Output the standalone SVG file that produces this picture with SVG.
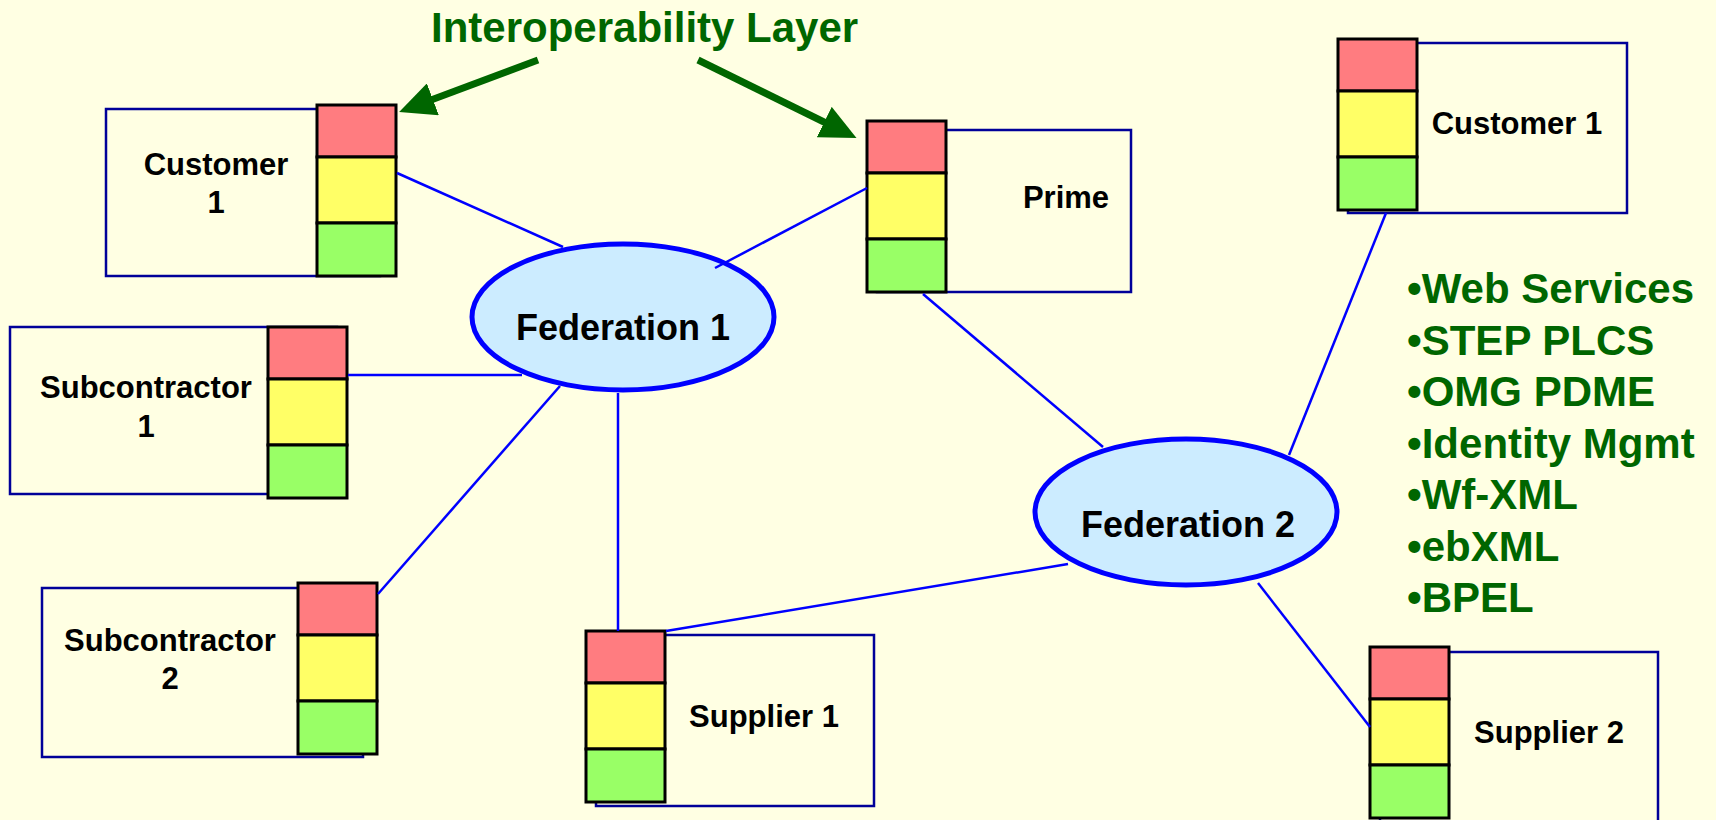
<svg xmlns="http://www.w3.org/2000/svg" xmlns:xlink="http://www.w3.org/1999/xlink" width="1716" height="820" viewBox="0 0 1716 820">
  <style>
    .box { fill: #FFFFE3; stroke: #000099; stroke-width: 2.5; }
    .fed { fill: #CCECFF; stroke: #0000FF; stroke-width: 5; }
    .link { stroke: #0000FF; stroke-width: 2.5; fill: none; }
    .label { font-family: "Liberation Sans", Arial, sans-serif; font-weight: bold; font-size: 31px; fill: #000; text-anchor: middle; }
    .fedlabel { font-family: "Liberation Sans", Arial, sans-serif; font-weight: bold; font-size: 36px; fill: #000; text-anchor: middle; }
    .green { font-family: "Liberation Sans", Arial, sans-serif; font-weight: bold; fill: #006600; }
    .pointer { stroke: #006600; stroke-width: 7; fill: none; }
  </style>
  <defs>
    <!-- three-layer interoperability stack: red / yellow / green -->
    <g id="stack">
      <rect x="0" y="0" width="79" height="52" fill="#FF7C80" stroke="#000" stroke-width="3"/>
      <rect x="0" y="52" width="79" height="66" fill="#FFFF66" stroke="#000" stroke-width="3"/>
      <rect x="0" y="118" width="79" height="53" fill="#99FF66" stroke="#000" stroke-width="3"/>
    </g>
    <marker id="head" markerUnits="userSpaceOnUse" markerWidth="36" markerHeight="34" viewBox="0 0 36 34" refX="2" refY="17" orient="auto">
      <path d="M0,0 L36,17 L0,34 z" fill="#006600"/>
    </marker>
  </defs>

  <rect width="1716" height="820" fill="#FFFFE3"/>

  <!-- title and pointer arrows -->
  <g id="title">
    <text class="green" x="431" y="42" font-size="42">Interoperability Layer</text>
    <line class="pointer" x1="538" y1="60" x2="431" y2="100" marker-end="url(#head)"/>
    <line class="pointer" x1="698" y1="60" x2="826" y2="123" marker-end="url(#head)"/>
  </g>

  <!-- standards list -->
  <g id="standards" class="green" font-size="42">
    <text x="1407" y="303">•Web Services</text>
    <text x="1407" y="354.5">•STEP PLCS</text>
    <text x="1407" y="406">•OMG PDME</text>
    <text x="1407" y="457.5">•Identity Mgmt</text>
    <text x="1407" y="509">•Wf-XML</text>
    <text x="1407" y="560.5">•ebXML</text>
    <text x="1407" y="612">•BPEL</text>
  </g>

  <!-- partner nodes -->
  <g id="customer1-left">
    <rect class="box" x="106" y="109" width="274" height="167"/>
    <use xlink:href="#stack" x="317" y="105"/>
    <text class="label" x="216" y="175">Customer</text>
    <text class="label" x="216" y="213">1</text>
  </g>

  <g id="prime">
    <rect class="box" x="877" y="130" width="254" height="162"/>
    <use xlink:href="#stack" x="867" y="121"/>
    <text class="label" x="1066" y="208">Prime</text>
  </g>

  <g id="customer1-right">
    <rect class="box" x="1348" y="43" width="279" height="170"/>
    <use xlink:href="#stack" x="1338" y="39"/>
    <text class="label" x="1517" y="134">Customer 1</text>
  </g>

  <g id="subcontractor1">
    <rect class="box" x="10" y="327" width="327" height="167"/>
    <use xlink:href="#stack" x="268" y="327"/>
    <text class="label" x="146" y="398">Subcontractor</text>
    <text class="label" x="146" y="437">1</text>
  </g>

  <g id="subcontractor2">
    <rect class="box" x="42" y="588" width="321" height="169"/>
    <use xlink:href="#stack" x="298" y="583"/>
    <text class="label" x="170" y="651">Subcontractor</text>
    <text class="label" x="170" y="689">2</text>
  </g>

  <g id="supplier1">
    <rect class="box" x="596" y="635" width="278" height="171"/>
    <use xlink:href="#stack" x="586" y="631"/>
    <text class="label" x="764" y="727">Supplier 1</text>
  </g>

  <g id="supplier2">
    <rect class="box" x="1380" y="652" width="278" height="190"/>
    <use xlink:href="#stack" x="1370" y="647"/>
    <text class="label" x="1549" y="743">Supplier 2</text>
  </g>

  <!-- federation hubs -->
  <g id="federation1">
    <ellipse class="fed" cx="623" cy="317" rx="151" ry="73"/>
    <text class="fedlabel" x="623" y="340">Federation 1</text>
  </g>

  <g id="federation2">
    <ellipse class="fed" cx="1186" cy="512" rx="151" ry="73"/>
    <text class="fedlabel" x="1188" y="537">Federation 2</text>
  </g>

  <!-- connectors -->
  <g id="connectors">
    <line class="link" x1="397" y1="173" x2="563" y2="247"/>
    <line class="link" x1="867" y1="188" x2="715" y2="268"/>
    <line class="link" x1="348" y1="375" x2="522" y2="375"/>
    <line class="link" x1="378" y1="594" x2="560" y2="386"/>
    <line class="link" x1="618" y1="393" x2="618" y2="631"/>
    <line class="link" x1="923" y1="294" x2="1103" y2="447"/>
    <line class="link" x1="1386" y1="213" x2="1289" y2="455"/>
    <line class="link" x1="666" y1="631" x2="1068" y2="564"/>
    <line class="link" x1="1258" y1="583" x2="1370" y2="727"/>
  </g>
</svg>
